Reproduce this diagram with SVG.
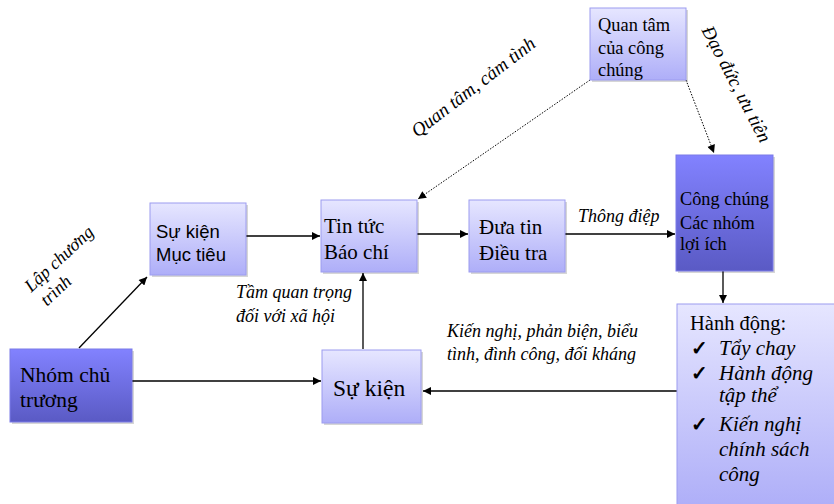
<svg xmlns="http://www.w3.org/2000/svg" width="834" height="504" viewBox="0 0 834 504">
<defs>
<linearGradient id="gl" x1="0" y1="0" x2="0" y2="1"><stop offset="0" stop-color="#e6e6ff"/><stop offset="1" stop-color="#aeaef8"/></linearGradient>
<linearGradient id="gd" x1="0" y1="0" x2="0" y2="1"><stop offset="0" stop-color="#8282ff"/><stop offset="1" stop-color="#5a5ac4"/></linearGradient>
<marker id="ar" viewBox="0 0 10 10" refX="10" refY="5" markerWidth="9" markerHeight="8" markerUnits="userSpaceOnUse" orient="auto"><path d="M0,0 L10,5 L0,10 z" fill="#000"/></marker>
<style>
.bl{fill:url(#gl);stroke:#9c9cf0;stroke-width:1}
.bd{fill:url(#gd);stroke:#7a7ae8;stroke-width:1}
.shd{fill:#000;fill-opacity:0.16}
.ln{stroke:#000;stroke-width:1.3;fill:none;marker-end:url(#ar)}
.dt{stroke:#000;stroke-width:1;stroke-dasharray:1.5 1.5;fill:none;marker-end:url(#ar)}
.sv{font-family:'Liberation Serif',serif}
.sa{font-family:'Liberation Sans',sans-serif}
</style>
</defs>
<g id="connectors">
<line class="ln" x1="79" y1="348" x2="147" y2="277"/>
<line class="ln" x1="246" y1="236" x2="320" y2="236"/>
<line class="ln" x1="417" y1="234" x2="468" y2="234"/>
<line class="ln" x1="565" y1="234" x2="675" y2="234"/>
<line class="ln" x1="723" y1="271" x2="723" y2="303"/>
<line class="ln" x1="677" y1="391" x2="423" y2="391"/>
<line class="ln" x1="132" y1="381" x2="321" y2="381"/>
<line class="ln" x1="363" y1="349" x2="363" y2="273"/>
<line class="dt" x1="590" y1="80" x2="418" y2="199"/>
<line class="dt" x1="686" y1="80" x2="714" y2="153"/>
</g>
<g id="labels" font-style="italic" font-size="18" fill="#000">
<g transform="translate(63,263) rotate(-43)"><text class="sv" x="0" y="0" text-anchor="middle">Lập chương</text><text class="sv" x="-24" y="21" text-anchor="middle">trình</text></g>
<text class="sv" font-size="19" transform="translate(477,92) rotate(-37.5)" text-anchor="middle">Quan tâm, cảm tình</text>
<text class="sv" font-size="19" transform="translate(731,87) rotate(62.5)" text-anchor="middle">Đạo đức, ưu tiên</text>
<text class="sv" x="236" y="298">Tầm quan trọng</text>
<text class="sv" x="236" y="322">đối với xã hội</text>
<text class="sv" x="447" y="337">Kiến nghị, phản biện, biểu</text>
<text class="sv" x="447" y="360">tình, đình công, đối kháng</text>
<text class="sv" x="578" y="222">Thông điệp</text>
</g>
<g id="n-nhom"><rect class="shd" x="12" y="351" width="122" height="73"/><rect class="bd" x="10" y="349" width="122" height="73"/><text class="sv" font-size="21.5"><tspan x="20" y="382">Nhóm chủ</tspan><tspan x="20" y="407">trương</tspan></text></g>
<g id="n-sukienmuctieu"><rect class="shd" x="152" y="205" width="96" height="72"/><rect class="bl" x="150" y="203" width="96" height="72"/><text class="sa" font-size="18.5"><tspan x="156" y="238">Sự kiện</tspan><tspan x="156" y="261">Mục tiêu</tspan></text></g>
<g id="n-tintuc"><rect class="shd" x="323" y="202" width="96" height="72"/><rect class="bl" x="321" y="200" width="96" height="72"/><text class="sv" font-size="21"><tspan x="324" y="233">Tin tức</tspan><tspan x="324" y="259">Báo chí</tspan></text></g>
<g id="n-duatin"><rect class="shd" x="471" y="202" width="96" height="72"/><rect class="bl" x="469" y="200" width="96" height="72"/><text class="sv" font-size="21"><tspan x="479" y="234">Đưa tin</tspan><tspan x="479" y="260">Điều tra</tspan></text></g>
<g id="n-quantam"><rect class="shd" x="592" y="10" width="96" height="72"/><rect class="bl" x="590" y="8" width="96" height="72"/><text class="sv" font-size="18.4"><tspan x="598" y="31">Quan tâm</tspan><tspan x="598" y="54">của công</tspan><tspan x="598" y="76">chúng</tspan></text></g>
<g id="n-congchung"><rect class="shd" x="678" y="157" width="97" height="116"/><rect class="bd" x="676" y="155" width="97" height="116"/><text class="sv" font-size="18.3"><tspan x="680" y="205">Công chúng</tspan><tspan x="680" y="229">Các nhóm</tspan><tspan x="680" y="250">lợi ích</tspan></text></g>
<g id="n-sukien"><rect class="shd" x="324" y="352" width="99" height="73"/><rect class="bl" x="322" y="350" width="99" height="73"/><text class="sv" font-size="23.5" x="333" y="396">Sự kiện</text></g>
<g id="n-hanhdong"><rect class="bl" x="677" y="304" width="160" height="204"/>
<text class="sv" font-size="20.5" x="690" y="330">Hành động:</text>
<text class="sv" font-size="20" font-weight="bold"><tspan x="691" y="355">✓</tspan><tspan x="691" y="380">✓</tspan><tspan x="691" y="431">✓</tspan></text>
<text class="sv" font-size="21" font-style="italic"><tspan x="719" y="355">Tẩy chay</tspan><tspan x="719" y="380">Hành động</tspan><tspan x="719" y="402">tập thể</tspan><tspan x="719" y="431">Kiến nghị</tspan><tspan x="719" y="456">chính sách</tspan><tspan x="719" y="481">công</tspan></text></g>
</svg>
